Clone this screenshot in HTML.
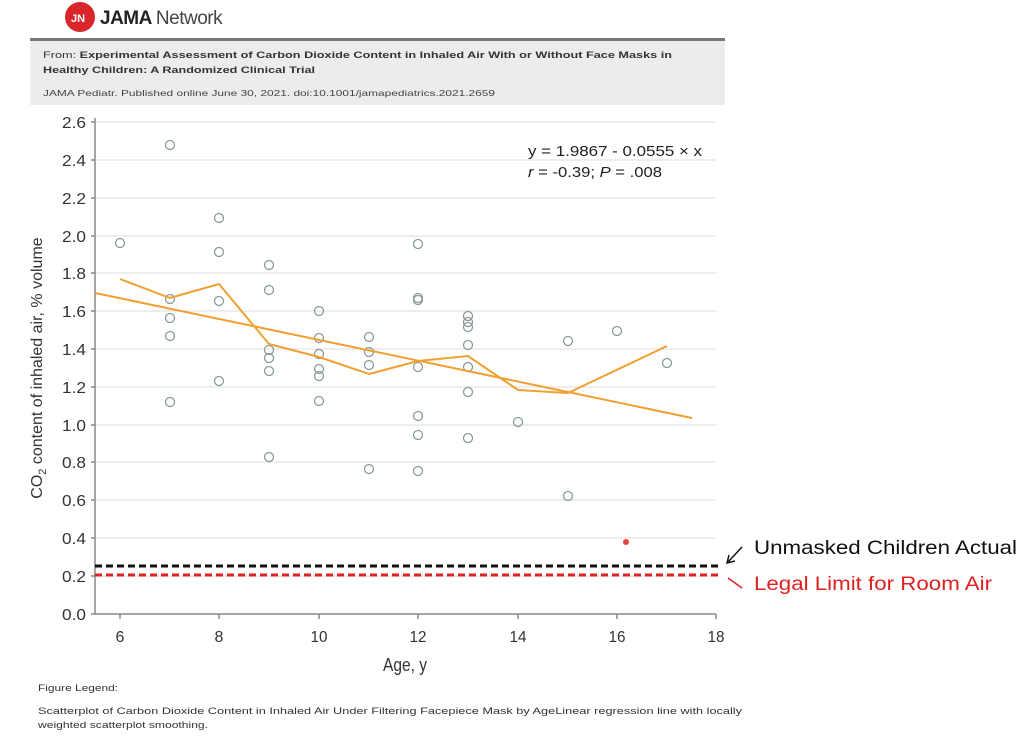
<!DOCTYPE html>
<html><head><style>body{margin:0;background:#fff}svg{display:block}</style></head><body>
<svg width="1024" height="737" xmlns="http://www.w3.org/2000/svg" font-family="Liberation Sans, sans-serif">
<rect width="1024" height="737" fill="#fff"/>
<circle cx="80" cy="17" r="15" fill="#d9262c"/>
<text x="71" y="22" font-size="11" fill="#fff" font-weight="bold">JN</text>
<text x="100" y="24" font-size="19" fill="#222" font-weight="bold" letter-spacing="-0.5">JAMA <tspan font-weight="normal" fill="#444">Network</tspan></text>
<rect x="30" y="40" width="695" height="65" fill="#ececec"/>
<rect x="30" y="38" width="695" height="3" fill="#777"/>
<text x="43" y="58" font-size="9.5" fill="#333" textLength="629" lengthAdjust="spacingAndGlyphs">From: <tspan font-weight="bold">Experimental Assessment of Carbon Dioxide Content in Inhaled Air With or Without Face Masks in</tspan></text>
<text x="43" y="73" font-size="9.5" fill="#333" font-weight="bold" textLength="272" lengthAdjust="spacingAndGlyphs">Healthy Children: A Randomized Clinical Trial</text>
<text x="43" y="96" font-size="8.5" fill="#444" textLength="452" lengthAdjust="spacingAndGlyphs">JAMA Pediatr. Published online  June 30, 2021. doi:10.1001/jamapediatrics.2021.2659</text>
<g stroke="#ddd" stroke-width="1">
<line x1="95" x2="716" y1="122" y2="122"/><line x1="95" x2="716" y1="160" y2="160"/><line x1="95" x2="716" y1="198" y2="198"/><line x1="95" x2="716" y1="236" y2="236"/><line x1="95" x2="716" y1="273" y2="273"/><line x1="95" x2="716" y1="311" y2="311"/><line x1="95" x2="716" y1="349" y2="349"/><line x1="95" x2="716" y1="387" y2="387"/><line x1="95" x2="716" y1="425" y2="425"/><line x1="95" x2="716" y1="462" y2="462"/><line x1="95" x2="716" y1="500" y2="500"/><line x1="95" x2="716" y1="538" y2="538"/><line x1="95" x2="716" y1="576" y2="576"/>
</g>
<g stroke="#888" stroke-width="1.5">
<line x1="95" y1="118" x2="95" y2="614"/><line x1="95" y1="614" x2="716" y2="614"/>
<line x1="91" x2="95" y1="122" y2="122"/><line x1="91" x2="95" y1="160" y2="160"/><line x1="91" x2="95" y1="198" y2="198"/><line x1="91" x2="95" y1="236" y2="236"/><line x1="91" x2="95" y1="273" y2="273"/><line x1="91" x2="95" y1="311" y2="311"/><line x1="91" x2="95" y1="349" y2="349"/><line x1="91" x2="95" y1="387" y2="387"/><line x1="91" x2="95" y1="425" y2="425"/><line x1="91" x2="95" y1="462" y2="462"/><line x1="91" x2="95" y1="500" y2="500"/><line x1="91" x2="95" y1="538" y2="538"/><line x1="91" x2="95" y1="576" y2="576"/><line x1="91" x2="95" y1="614" y2="614"/>
<line x1="120" x2="120" y1="614" y2="619"/><line x1="219" x2="219" y1="614" y2="619"/><line x1="319" x2="319" y1="614" y2="619"/><line x1="418" x2="418" y1="614" y2="619"/><line x1="518" x2="518" y1="614" y2="619"/><line x1="617" x2="617" y1="614" y2="619"/><line x1="716" x2="716" y1="614" y2="619"/>
</g>
<g font-size="16" fill="#333" text-anchor="end">
<text x="86" y="128" textLength="24" lengthAdjust="spacingAndGlyphs">2.6</text><text x="86" y="166" textLength="24" lengthAdjust="spacingAndGlyphs">2.4</text><text x="86" y="204" textLength="24" lengthAdjust="spacingAndGlyphs">2.2</text><text x="86" y="242" textLength="24" lengthAdjust="spacingAndGlyphs">2.0</text><text x="86" y="279" textLength="24" lengthAdjust="spacingAndGlyphs">1.8</text><text x="86" y="317" textLength="24" lengthAdjust="spacingAndGlyphs">1.6</text><text x="86" y="355" textLength="24" lengthAdjust="spacingAndGlyphs">1.4</text><text x="86" y="393" textLength="24" lengthAdjust="spacingAndGlyphs">1.2</text><text x="86" y="431" textLength="24" lengthAdjust="spacingAndGlyphs">1.0</text><text x="86" y="468" textLength="24" lengthAdjust="spacingAndGlyphs">0.8</text><text x="86" y="506" textLength="24" lengthAdjust="spacingAndGlyphs">0.6</text><text x="86" y="544" textLength="24" lengthAdjust="spacingAndGlyphs">0.4</text><text x="86" y="582" textLength="24" lengthAdjust="spacingAndGlyphs">0.2</text><text x="86" y="620" textLength="24" lengthAdjust="spacingAndGlyphs">0.0</text>
</g>
<g font-size="16" fill="#333" text-anchor="middle">
<text x="120" y="642">6</text><text x="219" y="642">8</text><text x="319" y="642" textLength="17" lengthAdjust="spacingAndGlyphs">10</text><text x="418" y="642" textLength="17" lengthAdjust="spacingAndGlyphs">12</text><text x="518" y="642" textLength="17" lengthAdjust="spacingAndGlyphs">14</text><text x="617" y="642" textLength="17" lengthAdjust="spacingAndGlyphs">16</text><text x="716" y="642" textLength="17" lengthAdjust="spacingAndGlyphs">18</text>
<text x="405" y="671" font-size="18" textLength="44" lengthAdjust="spacingAndGlyphs">Age, y</text>
</g>
<text transform="translate(42,368) rotate(-90)" font-size="16" fill="#333" text-anchor="middle">CO<tspan font-size="11" dy="4">2</tspan><tspan dy="-4"> content of inhaled air, % volume</tspan></text>
<text x="528" y="156" font-size="15" fill="#222" textLength="174" lengthAdjust="spacingAndGlyphs">y = 1.9867 - 0.0555 × x</text>
<text x="528" y="177" font-size="15" fill="#222" textLength="134" lengthAdjust="spacingAndGlyphs"><tspan font-style="italic">r</tspan> = -0.39; <tspan font-style="italic">P</tspan> = .008</text>
<g fill="none" stroke="#8a9a9a" stroke-width="1.3">
<circle cx="120" cy="243" r="4.5"/><circle cx="170" cy="145" r="4.5"/><circle cx="170" cy="299" r="4.5"/><circle cx="170" cy="318" r="4.5"/><circle cx="170" cy="336" r="4.5"/><circle cx="170" cy="402" r="4.5"/><circle cx="219" cy="218" r="4.5"/><circle cx="219" cy="252" r="4.5"/><circle cx="219" cy="301" r="4.5"/><circle cx="219" cy="381" r="4.5"/><circle cx="269" cy="265" r="4.5"/><circle cx="269" cy="290" r="4.5"/><circle cx="269" cy="350" r="4.5"/><circle cx="269" cy="358" r="4.5"/><circle cx="269" cy="371" r="4.5"/><circle cx="269" cy="457" r="4.5"/><circle cx="319" cy="311" r="4.5"/><circle cx="319" cy="338" r="4.5"/><circle cx="319" cy="354" r="4.5"/><circle cx="319" cy="369" r="4.5"/><circle cx="319" cy="376" r="4.5"/><circle cx="319" cy="401" r="4.5"/><circle cx="369" cy="337" r="4.5"/><circle cx="369" cy="352" r="4.5"/><circle cx="369" cy="365" r="4.5"/><circle cx="369" cy="469" r="4.5"/><circle cx="418" cy="244" r="4.5"/><circle cx="418" cy="298" r="4.5"/><circle cx="418" cy="300" r="4.5"/><circle cx="418" cy="367" r="4.5"/><circle cx="418" cy="416" r="4.5"/><circle cx="418" cy="435" r="4.5"/><circle cx="418" cy="471" r="4.5"/><circle cx="468" cy="316" r="4.5"/><circle cx="468" cy="322" r="4.5"/><circle cx="468" cy="327" r="4.5"/><circle cx="468" cy="345" r="4.5"/><circle cx="468" cy="367" r="4.5"/><circle cx="468" cy="392" r="4.5"/><circle cx="468" cy="438" r="4.5"/><circle cx="518" cy="422" r="4.5"/><circle cx="568" cy="341" r="4.5"/><circle cx="568" cy="496" r="4.5"/><circle cx="617" cy="331" r="4.5"/><circle cx="667" cy="363" r="4.5"/>
</g>
<line x1="95" y1="293" x2="692" y2="418" stroke="#f0a030" stroke-width="2"/>
<polyline points="120,279 170,298 219,284 269,344 319,357 369,374 418,361 468,356 518,390 568,393 667,346" fill="none" stroke="#f0a030" stroke-width="2"/>
<circle cx="626" cy="542" r="3" fill="#f04040"/>
<line x1="95" y1="566" x2="718" y2="566" stroke="#111" stroke-width="3" stroke-dasharray="7,4"/>
<line x1="95" y1="575" x2="718" y2="575" stroke="#e02020" stroke-width="3" stroke-dasharray="7,4"/>
<line x1="742" y1="547" x2="728" y2="562" stroke="#111" stroke-width="1.5"/>
<polyline points="729,555 727,563 735,561" fill="none" stroke="#111" stroke-width="1.5"/>
<line x1="742" y1="588" x2="728" y2="578" stroke="#e02020" stroke-width="1.5"/>
<text x="754" y="554" font-size="19" fill="#111" textLength="263" lengthAdjust="spacingAndGlyphs">Unmasked Children Actual</text>
<text x="754" y="590" font-size="19" fill="#e02020" textLength="238" lengthAdjust="spacingAndGlyphs">Legal Limit for Room Air</text>
<text x="38" y="691" font-size="9" fill="#333" textLength="80" lengthAdjust="spacingAndGlyphs">Figure Legend:</text>
<text x="38" y="714" font-size="9" fill="#333" textLength="704" lengthAdjust="spacingAndGlyphs">Scatterplot of Carbon Dioxide Content in Inhaled Air Under Filtering Facepiece Mask by AgeLinear regression line with locally</text>
<text x="38" y="728" font-size="9" fill="#333" textLength="170" lengthAdjust="spacingAndGlyphs">weighted scatterplot smoothing.</text>
</svg>
</body></html>
